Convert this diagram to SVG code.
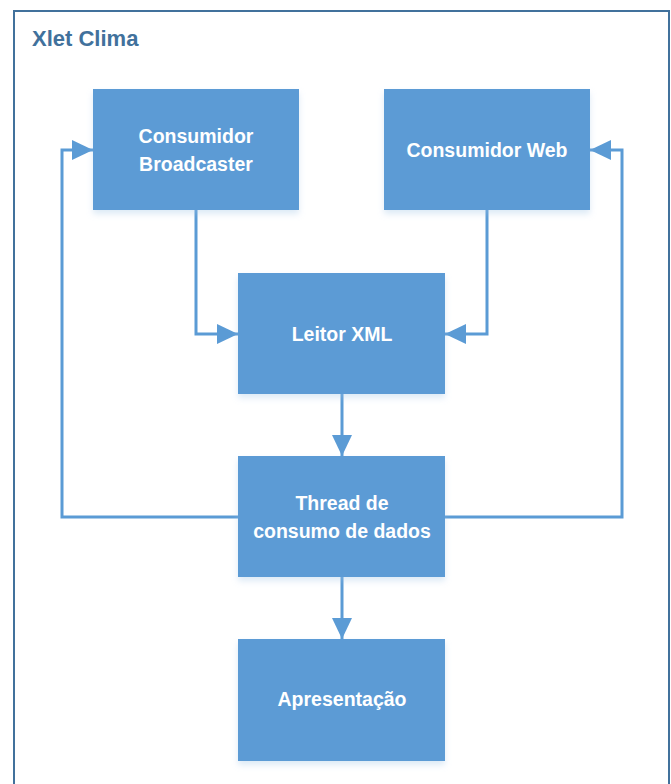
<svg xmlns="http://www.w3.org/2000/svg" width="671" height="784" viewBox="0 0 671 784">
<style>
.box{fill:#5B9BD5;filter:url(#sh);}
.lbl{fill:#FFFFFF;font-family:"Liberation Sans",Arial,sans-serif;font-weight:bold;font-size:19.5px;text-anchor:middle;}
.con{fill:none;stroke:#5B9BD5;stroke-width:3;marker-end:url(#ah);}
.title{fill:#41719C;font-family:"Liberation Sans",Arial,sans-serif;font-weight:bold;font-size:22px;}
</style>
<defs>
<marker id="ah" markerUnits="userSpaceOnUse" markerWidth="22" markerHeight="20" refX="21" refY="10" orient="auto">
<path d="M0,0 L21,10 L0,20 Z" fill="#5B9BD5"/>
</marker>
<filter id="sh" x="-10%" y="-10%" width="120%" height="130%">
<feGaussianBlur in="SourceAlpha" stdDeviation="3"/>
<feOffset dx="0" dy="4" result="b"/>
<feFlood flood-color="#9DC3E6" flood-opacity="0.35"/>
<feComposite in2="b" operator="in"/>
<feMerge><feMergeNode/><feMergeNode in="SourceGraphic"/></feMerge>
</filter>
</defs>
<rect width="671" height="784" fill="#FFFFFF"/>
<g id="frame">
<rect x="14" y="11" width="655" height="790" fill="none" stroke="#41719C" stroke-width="2"/>
<text class="title" x="32" y="46">Xlet Clima</text>
</g>
<g id="connectors">
<path class="con" d="M196,210 V334 H238"/>
<path class="con" d="M487,210 V334 H445"/>
<path class="con" d="M342,394 V456"/>
<path class="con" d="M238,517 H62 V150 H93"/>
<path class="con" d="M445,517 H622 V150 H590"/>
<path class="con" d="M342,577 V639"/>
</g>
<g id="broadcaster">
<rect class="box" x="93" y="89" width="206" height="121"/>
<text class="lbl" x="196" y="143">Consumidor</text>
<text class="lbl" x="196" y="171">Broadcaster</text>
</g>
<g id="web">
<rect class="box" x="384" y="89" width="206" height="121"/>
<text class="lbl" x="487" y="157">Consumidor Web</text>
</g>
<g id="leitor">
<rect class="box" x="238" y="273" width="207" height="121"/>
<text class="lbl" x="342" y="341">Leitor XML</text>
</g>
<g id="thread">
<rect class="box" x="238" y="456" width="207" height="121"/>
<text class="lbl" x="342" y="510">Thread de</text>
<text class="lbl" x="342" y="538">consumo de dados</text>
</g>
<g id="apresentacao">
<rect class="box" x="238" y="639" width="207" height="122"/>
<text class="lbl" x="342" y="706">Apresentação</text>
</g>
</svg>
